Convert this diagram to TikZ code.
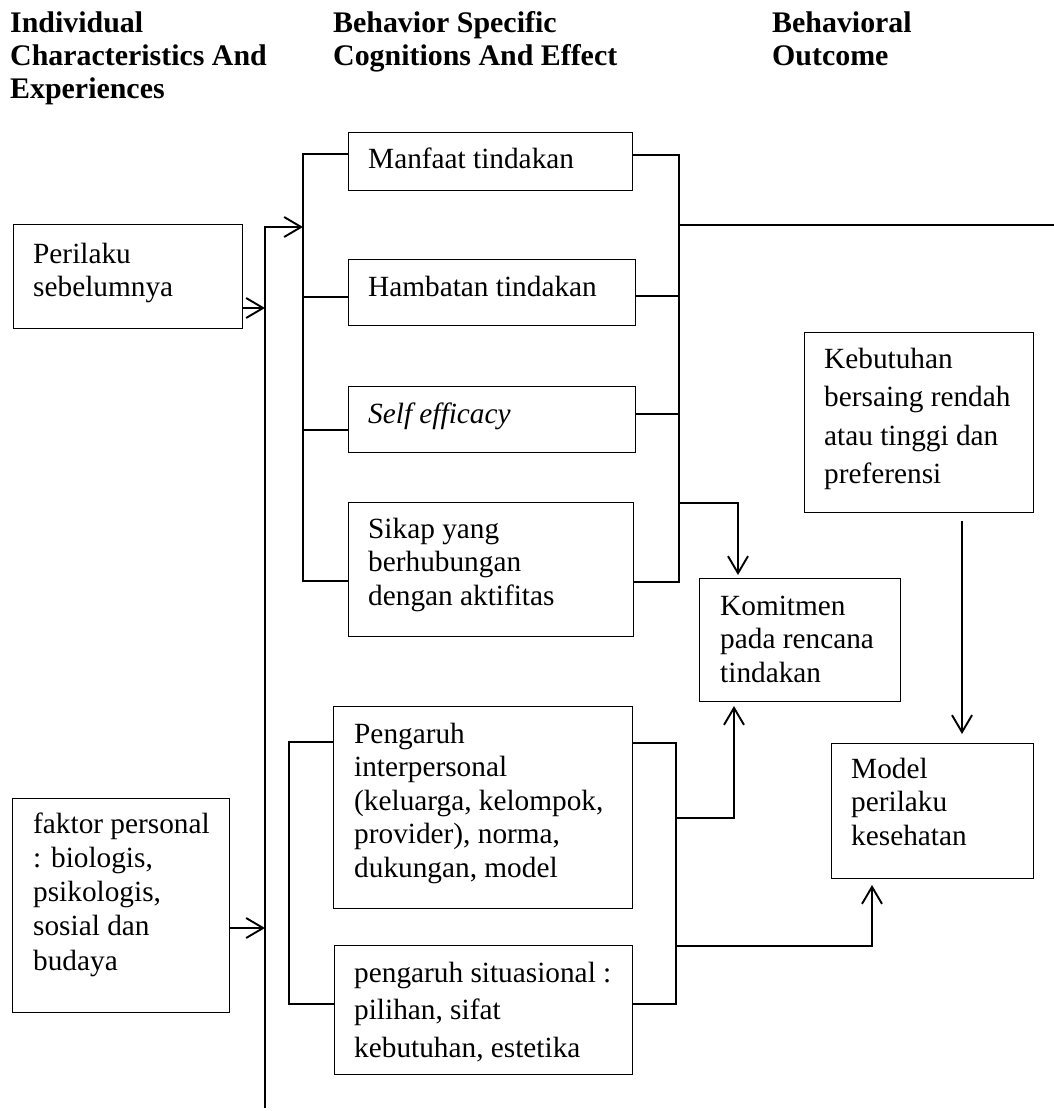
\documentclass[tikz,border=0pt]{standalone}
\usepackage{fontspec}
\setmainfont{Liberation Serif}
\usetikzlibrary{arrows.meta}
\newcommand\mylines[1]{\begin{tabular}[t]{@{}l@{}}#1\end{tabular}}
\begin{document}
\begin{tikzpicture}[x=1pt,y=-1pt,
  box/.style={draw, line width=1.2pt, inner sep=0pt, anchor=north west},
  txt/.style={inner sep=0pt, anchor=base west, font=\fontsize{29.3}{33.5}\selectfont},
  head/.style={inner sep=0pt, anchor=base west, font=\fontsize{29.9}{33}\selectfont\bfseries},
  conn/.style={line width=1.9pt, line cap=rect},
  arr/.style={line width=1.9pt, -{Straight Barb[length=17pt,width=20pt,line width=1.9pt]}}
]
\useasboundingbox (0,0) rectangle (1053,1111);

% headers
\node[head] (h1) at (10,32) {\mylines{Individual\\Characteristics And\\Experiences}};
\node[head] (h2) at (333,32) {\mylines{Behavior Specific\\Cognitions And Effect}};
\node[head] (h3) at (772,32) {\mylines{Behavioral\\Outcome}};

% boxes
\node[box, minimum width=229pt, minimum height=104pt] (peri) at (13,224) {};
\node[txt] (peri-t) at (33,263) {\mylines{Perilaku\\sebelumnya}};

\node[box, minimum width=217pt, minimum height=214pt] (fakt) at (12,798) {};
\node[txt, font=\fontsize{29.3}{34.3}\selectfont] (fakt-t) at (33,833) {\mylines{faktor personal\\: biologis,\\psikologis,\\sosial dan\\budaya}};

\node[box, minimum width=284pt, minimum height=58pt] (manf) at (348,132) {};
\node[txt] (manf-t) at (368,168) {Manfaat tindakan};

\node[box, minimum width=287pt, minimum height=66pt] (hamb) at (348,259) {};
\node[txt] (hamb-t) at (368,296) {Hambatan tindakan};

\node[box, minimum width=287pt, minimum height=66pt] (self) at (348,386) {};
\node[txt] (self-t) at (368,423) {\itshape Self efficacy};

\node[box, minimum width=285pt, minimum height=134pt] (sika) at (348,502) {};
\node[txt] (sika-t) at (368,538) {\mylines{Sikap yang\\berhubungan\\dengan aktifitas}};

\node[box, minimum width=299pt, minimum height=202pt] (peng) at (333,706) {};
\node[txt] (peng-t) at (354,743) {\mylines{Pengaruh\\interpersonal\\(keluarga, kelompok,\\provider), norma,\\dukungan, model}};

\node[box, minimum width=298pt, minimum height=129pt] (situ) at (334,945) {};
\node[txt, font=\fontsize{29.3}{37.5}\selectfont] (situ-t) at (354,982) {\mylines{pengaruh situasional :\\pilihan, sifat\\kebutuhan, estetika}};

\node[box, minimum width=201pt, minimum height=123pt] (komi) at (699,578) {};
\node[txt] (komi-t) at (720,615) {\mylines{Komitmen\\pada rencana\\tindakan}};

\node[box, minimum width=229pt, minimum height=180pt] (kebu) at (804,332) {};
\node[txt, font=\fontsize{29.3}{38.5}\selectfont] (kebu-t) at (824,368) {\mylines{Kebutuhan\\bersaing rendah\\atau tinggi dan\\preferensi}};

\node[box, minimum width=202pt, minimum height=135pt] (mode) at (831,743) {};
\node[txt] (mode-t) at (851,778) {\mylines{Model\\perilaku\\kesehatan}};

% coordinates
\coordinate (mainTop) at (265,227);
\coordinate (mainBot) at (265,1108);
\coordinate (lbT) at (303,154);
\coordinate (lbB) at (303,581);
\coordinate (lbA) at (303,227);
\coordinate (lbH) at (303,297);
\coordinate (lbS) at (303,430);
\coordinate (rbT) at (679,155);
\coordinate (rbB) at (679,582);
\coordinate (rbH) at (679,296);
\coordinate (rbS) at (679,414);
\coordinate (rbL) at (679,225);
\coordinate (rEdge) at (1053,225);
\coordinate (rbK) at (679,503);
\coordinate (kTurn) at (738,503);
\coordinate (kTip) at (738,575);
\coordinate (kbS) at (962,521);
\coordinate (kbT) at (962,734);
\coordinate (plT) at (289,742);
\coordinate (plB) at (289,1004);
\coordinate (prT) at (676,743);
\coordinate (prB) at (676,1004);
\coordinate (prK) at (676,818);
\coordinate (pkTurn) at (734,818);
\coordinate (pkTip) at (734,706);
\coordinate (prM) at (676,946);
\coordinate (pmTurn) at (872,946);
\coordinate (pmTip) at (872,885);

% main vertical line with arrow into left bracket
\draw[arr] (mainBot) -- (mainTop) -- (lbA);
\draw[arr] (peri.east |- 0,308) -- (265,308);
\draw[arr] (fakt.east |- 0,928) -- (265,928);

% left bracket (cognitions)
\draw[conn] (manf.west |- lbT) -- (lbT) -- (lbB) -- (sika.west |- lbB);
\draw[conn] (lbH) -- (hamb.west |- lbH);
\draw[conn] (lbS) -- (self.west |- lbS);

% right bracket (cognitions)
\draw[conn] (manf.east |- rbT) -- (rbT) -- (rbB) -- (sika.east |- rbB);
\draw[conn] (hamb.east |- rbH) -- (rbH);
\draw[conn] (self.east |- rbS) -- (rbS);
\draw[conn] (rbL) -- (rEdge);
\draw[arr] (rbK) -- (kTurn) -- (kTip);

% kebutuhan to model
\draw[arr] (kbS) -- (kbT);

% left bracket (influences)
\draw[conn] (peng.west |- plT) -- (plT) -- (plB) -- (situ.west |- plB);

% right bracket (influences)
\draw[conn] (peng.east |- prT) -- (prT) -- (prB) -- (situ.east |- prB);
\draw[arr] (prK) -- (pkTurn) -- (pkTip);
\draw[arr] (prM) -- (pmTurn) -- (pmTip);
\end{tikzpicture}
\end{document}
